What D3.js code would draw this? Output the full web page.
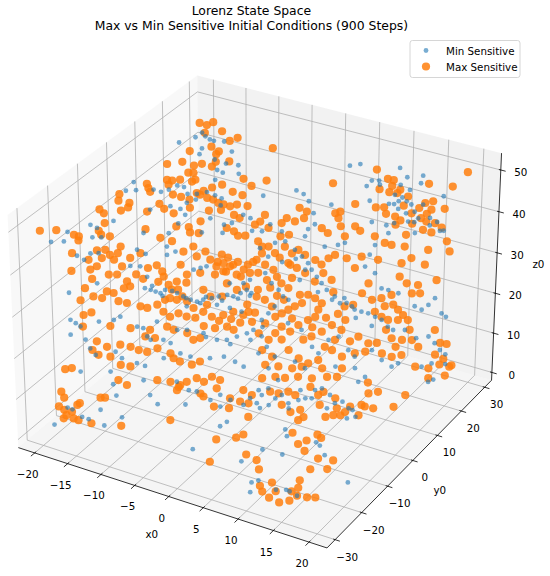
<!DOCTYPE html>
<html>
<head>
<meta charset="utf-8">
<script src="https://cdn.jsdelivr.net/npm/d3@7"></script>
<style>
  body { margin: 0; background: #fff; }
  svg { display: block; font-family: "DejaVu Sans", sans-serif; }
</style>
</head>
<body>
<svg id="chart" width="550" height="576"></svg>
<script>
// tick labels
const xTicks = [-20, -15, -10, -5, 0, 5, 10, 15, 20]
const yTicks = [-30, -20, -10, 0, 10, 20, 30]
const zTicks = [0, 10, 20, 30, 40, 50]
const seriesNames = ["Min Sensitive", "Max Sensitive"]

// [x0, y0, z0]
const minSensitive = [
  [-19.4,18.5,46.0],[-17.7,20.5,47.0],[-16.6,21.5,47.2],[-16.0,21.7,46.6],[-15.5,22.0,46.3],[-16.6,20.2,44.9],
  [-16.7,19.5,43.8],[-14.8,20.5,42.8],[-13.1,22.8,44.3],[-14.3,22.9,46.2],[-8.8,6.7,49.9],[-8.1,7.0,49.4],
  [-6.6,9.0,50.8],[-6.3,8.4,49.2],[-17.6,-2.1,47.7],[-18.2,-3.5,46.1],[-17.1,-2.5,46.2],[-15.2,-0.8,46.3],
  [-14.3,-0.3,45.9],[-13.5,0.6,46.3],[-12.7,1.7,47.1],[-11.9,2.2,46.8],[-11.3,2.0,45.5],[-10.3,2.9,45.5],
  [-9.2,3.9,45.9],[-8.2,4.4,45.3],[-7.4,4.8,44.7],[-10.2,2.3,44.5],[-11.1,1.2,43.9],[-7.3,4.2,43.4],
  [-14.9,-2.8,42.7],[-12.8,-0.6,43.3],[-11.6,0.1,42.8],[-8.0,2.1,41.1],[-6.3,2.9,39.9],[-5.5,3.8,40.2],
  [-4.5,5.5,41.7],[-3.6,5.9,41.1],[-18.6,-7.1,40.6],[-21.0,-9.6,39.9],[-20.2,-9.2,39.3],[-20.4,-18.6,43.3],
  [-20.4,-10.4,37.6],[-19.4,-9.6,37.6],[-14.9,-5.3,38.4],[-12.1,-3.0,38.4],[-11.4,-1.2,40.1],[-8.5,0.2,38.5],
  [-6.2,2.1,38.4],[-3.0,5.0,38.8],
  [5.7,19.4,50.7],[6.8,20.5,51.0],[11.3,23.9,50.3],[12.4,23.8,48.6],[14.1,25.4,48.9],[14.1,24.6,47.5],
  [8.6,20.2,48.0],[9.4,20.9,48.0],[8.2,19.3,47.0],[9.6,20.7,47.2],[11.9,22.6,47.2],[17.0,25.7,45.1],
  [0.6,12.4,46.2],[1.5,12.8,45.5],[2.3,12.7,44.2],[-2.9,8.9,45.2],[4.9,14.5,43.6],[9.0,18.4,44.3],
  [11.2,20.0,43.7],[11.8,20.4,43.7],[12.2,21.1,44.2],[12.5,21.7,44.9],[13.1,21.8,44.2],[13.7,22.0,43.6],
  [12.4,20.4,42.8],[13.4,20.8,42.0],[14.3,21.7,42.3],[15.0,23.1,43.6],[3.2,12.2,42.0],[3.7,11.4,40.0],
  [9.9,16.9,40.4],[11.6,18.0,39.8],[12.4,18.9,40.2],[13.9,20.3,40.5],[14.6,20.8,40.4],[14.9,21.5,41.1],
  [16.4,22.0,39.8],[17.1,23.0,40.4],[17.7,22.5,38.8],[18.1,22.9,38.8],[3.1,10.4,39.1],[3.0,9.5,37.8],
  [-1.2,7.2,40.0],[-1.9,5.9,38.7],[0.3,7.7,38.7],[12.1,17.5,38.4],[15.0,20.0,38.4],
  [-20.9,-23.0,43.1],[-20.5,-19.7,41.6],[-19.6,-17.5,37.4],[-20.6,-13.0,33.5],[-20.1,-11.9,34.7],[-19.2,-11.1,34.7],
  [-15.1,-7.2,35.3],[-14.0,-6.8,34.6],[-15.3,-9.2,32.4],[-14.2,-8.3,32.3],[-13.1,-8.5,30.4],[-11.6,-4.9,34.4],
  [-10.8,-3.8,35.0],[-11.9,-4.2,35.9],[-8.2,-3.6,31.7],[-7.5,-2.8,32.0],[-6.9,-2.1,32.3],[-21.2,-17.1,27.5],
  [-18.4,-13.7,29.2],[-13.0,-9.6,28.3],[-12.3,-9.2,28.0],[-11.7,-8.9,27.7],[-11.1,-8.6,27.4],[-10.7,-7.9,28.0],
  [-9.3,-7.0,27.4],[-8.5,-6.7,26.8],[-7.6,-6.3,26.2],[-6.8,-5.9,25.9],[-6.2,-5.1,26.2],[-5.3,-4.2,26.5],
  [-4.6,-3.4,26.8],[-3.7,-2.5,27.1],[-3.0,-2.0,26.8],[-2.3,-1.1,27.4],[-1.7,-0.3,28.0],[-1.1,-0.1,27.4],
  [-3.8,-1.3,29.2],[-2.3,0.0,29.2],[-1.7,0.9,29.8],[-7.8,-7.2,25.0],[-6.4,-5.7,25.6],[-4.5,-4.3,25.3],
  [-3.0,-3.3,24.7],[-1.6,-2.5,24.0],[-20.2,-19.1,22.5],[-19.5,-18.9,21.9],[-18.9,-18.7,21.3],[-19.7,-20.3,19.8],
  [-17.0,-16.6,22.2],[-17.9,-19.3,18.9],[-15.4,-15.1,22.5],[-14.8,-14.2,23.1],[-12.6,-13.5,21.3],[-11.9,-13.0,21.0],
  [-11.2,-13.3,19.5],[-10.7,-13.3,18.9],[-9.3,-12.1,18.9],[-8.4,-11.7,18.3],[-10.6,-11.2,22.2],[-8.1,-10.0,20.7],
  [-7.0,-9.1,20.7],[-5.1,-7.8,20.1],[-3.4,-7.1,18.9],[-2.3,-6.2,18.9],[-1.3,-5.0,19.5],[-0.3,-3.8,20.1],
  [0.3,-2.9,20.7],[-17.1,-19.6,17.3],[-16.3,-19.6,16.1],[-14.2,-17.5,16.7],[-13.3,-17.4,15.5],[-11.5,-16.4,14.6],
  [-10.5,-15.9,14.1],[-8.7,-13.5,15.5],[-7.0,-11.6,16.4],[-5.8,-10.9,15.8],[-3.6,-9.2,15.5],[-2.1,-7.8,15.8],
  [-0.7,-7.2,14.9],[0.4,-6.8,14.0],[-17.4,-22.4,13.1],[-14.1,-19.6,13.1],
  [-1.6,4.4,35.6],[-0.1,6.2,36.6],[1.0,7.2,36.9],[2.3,7.5,35.3],[3.3,7.6,34.1],[4.2,7.6,32.9],
  [4.8,7.4,31.7],[4.1,6.8,31.7],[5.6,7.3,30.4],[6.3,7.3,29.2],[7.1,7.2,28.0],[8.2,7.4,26.8],
  [9.0,7.3,25.6],[9.7,8.0,25.6],[10.4,8.2,25.0],[10.8,8.2,24.4],[11.6,8.7,24.0],[12.4,9.2,23.7],
  [13.3,9.5,23.1],[14.1,9.9,22.5],[15.0,9.9,21.3],[15.7,10.1,20.7],[-0.2,2.8,31.1],[0.8,2.6,29.2],
  [1.8,2.7,28.0],[2.5,2.6,26.8],[3.2,2.8,26.2],[1.9,1.0,25.0],[1.4,-0.1,23.7],[0.9,-1.3,22.5],
  [5.5,10.5,35.9],[6.9,11.9,36.2],[7.6,12.7,36.6],[11.0,15.3,36.2],[10.7,14.1,34.4],[10.6,12.6,32.3],
  [11.9,13.0,31.1],[13.1,12.4,28.3],[13.9,12.9,28.0],[15.1,13.6,27.4],[17.3,14.1,25.0],[18.2,14.4,24.4],
  [18.8,15.4,25.3],[19.3,16.6,26.5],[20.5,16.0,23.7],[19.6,20.6,19.8],[17.0,11.2,20.7],[18.5,11.6,19.2],
  [19.8,12.9,19.5],[20.7,12.9,18.3],[20.0,17.3,13.7],[20.0,19.7,11.2],[3.9,0.9,21.9],[5.6,1.6,20.7],
  [7.3,1.2,17.6],[8.2,1.3,16.4],[8.9,3.3,18.9],[9.9,4.5,19.5],[11.4,4.3,17.0],[12.3,4.4,15.8],
  [14.0,6.5,17.0],[15.4,6.6,15.2],[16.7,7.0,14.0],[17.3,7.9,14.6],[1.4,-2.6,19.5],[1.6,-4.3,16.4],
  [2.3,-3.0,17.6],[3.5,-3.0,15.8],[3.2,-4.6,13.7],[5.9,-1.6,14.9],[7.2,-1.2,13.7],[10.5,1.8,14.0],
  [12.7,3.5,13.7],[20.0,9.8,14.0],[21.0,11.0,14.6],[20.3,18.9,9.4],
  [-18.6,-29.1,3.4],[-17.7,-26.5,6.5],[-17.1,-26.2,6.2],[-15.8,-25.9,4.8],[-15.0,-25.5,4.4],[-13.1,-24.5,3.2],
  [-12.7,-21.0,8.7],[-11.4,-22.2,4.7],[-13.4,-20.4,10.8],[-10.2,-17.2,11.5],[-7.9,-17.8,7.1],[-4.8,-15.3,7.1],
  [-6.5,-14.2,11.2],[-4.9,-13.8,9.7],[-4.0,-13.1,9.4],[-2.2,-12.6,7.9],[-1.3,-11.2,8.8],[0.0,-10.7,7.9],
  [1.6,-9.9,7.0],[2.1,-8.7,8.2],[-0.9,-12.2,6.7],[0.3,-12.8,3.9],[-0.3,-13.8,3.1],[0.0,-24.4,4.2],
  [6.5,-23.0,3.8],[10.9,-30.9,3.7],[9.9,-27.9,3.6],
  [2.8,-7.3,9.7],[3.3,-7.4,8.8],[3.8,-6.2,10.0],[3.0,-8.5,7.3],[3.5,-8.6,6.4],[4.4,-7.6,7.0],
  [4.9,-6.4,8.2],[5.5,-5.5,8.8],[6.5,-5.6,7.3],[6.7,-6.0,6.4],[7.5,-4.4,7.9],[8.2,-3.6,8.2],
  [8.9,-3.0,8.2],[9.0,-2.0,9.7],[9.7,-1.2,10.0],[10.9,-2.4,6.4],[11.6,-1.2,7.3],[12.4,-0.4,7.6],
  [13.3,-0.4,6.4],[13.8,-0.2,6.1],[14.3,-0.4,4.8],[13.4,-1.3,4.5],[13.5,2.7,11.2],[14.1,3.7,12.1],
  [21.2,9.2,11.2],[20.2,14.3,8.2],[8.6,-12.2,6.0],[9.0,-12.6,4.8],[13.2,-12.6,5.5],[13.7,-12.5,4.9],
  [15.3,-14.9,4.9],[7.6,-18.1,4.2],[10.7,-18.7,5.0],[20.2,-19.2,3.6],[10.6,-27.2,4.0],[13.1,-27.2,3.1],
  [14.2,-26.3,3.1],[14.6,-26.1,2.8],[16.0,-27.0,3.1],
  [-12.3,-8.7,28.7],[-10.8,-8.6,26.9],[-9.9,-7.3,27.8],[-8.1,-6.6,26.5],[-6.0,-4.6,26.7],[-4.1,-3.4,26.0],
  [-2.4,-1.8,26.4],[-1.2,-0.4,26.9],[-0.4,4.4,34.1],[1.3,5.3,33.1],[2.7,6.8,33.7],[3.8,5.5,29.8],
  [6.2,6.2,27.6],[8.0,6.9,26.2],[11.2,7.6,22.9],[13.2,8.5,21.4],[9.3,8.2,26.5],[-4.7,-7.9,19.4],
  [-1.8,-6.2,18.1],[0.3,-4.0,18.9],[1.2,-1.8,21.2],[-17.1,21.5,47.9],[-13.4,21.3,42.0],[-8.7,5.7,48.1],
  [-10.9,0.1,41.7],[11.6,21.2,45.4],[13.1,23.0,46.3],[16.2,22.6,41.2],[4.6,-4.6,11.5],[7.4,-3.4,9.7],
  [10.8,-1.0,8.8],[-14.0,-23.6,6.1],[-9.0,-17.8,8.8]
]

const maxSensitive = [
  [-17.7,22.1,49.7],[-16.2,23.5,49.8],[-16.8,21.8,47.8],[-14.9,23.6,48.1],[-13.7,23.5,46.3],[-12.9,24.5,46.9],
  [-15.6,21.3,45.2],[-17.9,18.8,44.4],[-14.6,21.6,44.3],[-13.1,21.8,42.4],[-14.5,2.5,51.0],[-12.9,4.1,51.4],
  [-11.5,4.9,50.7],[-9.5,6.5,50.5],[-9.2,7.2,51.4],[-11.9,3.8,49.4],[-11.3,4.2,49.4],[-5.6,8.4,48.3],
  [-14.0,1.2,48.1],[-13.4,1.6,48.0],[-12.6,2.5,48.1],[-13.7,1.0,47.2],[-11.2,3.4,47.8],[-10.9,3.9,48.1],
  [-16.1,-1.0,47.4],[-15.8,-1.2,46.6],[-15.5,-1.3,45.9],[-8.8,4.8,46.7],[-9.6,3.7,46.1],[-10.3,2.9,45.7],
  [-9.9,3.1,45.4],[-9.0,3.5,44.8],[-8.3,3.9,44.5],[-7.6,4.1,43.9],[-7.0,4.5,43.6],[-5.2,7.0,45.3],
  [-4.5,8.6,47.0],[-18.8,-4.4,45.5],[-18.7,-5.0,44.3],[-17.4,-4.2,43.9],[-17.4,-4.7,43.1],[-18.1,-5.6,42.5],
  [-14.1,-1.4,43.7],[-13.4,-1.4,42.8],[-15.2,-3.2,42.3],[-12.9,0.6,45.4],[-11.9,1.1,45.0],[-10.9,1.7,44.5],
  [-10.6,1.1,43.0],[-12.2,-0.9,42.0],[-8.4,2.6,42.5],[-7.1,3.8,42.6],[-6.2,4.9,43.3],[-5.5,5.7,43.6],
  [-5.5,4.6,41.7],[-4.8,4.9,41.1],[-4.3,6.6,43.3],[-20.5,-7.5,42.7],[-19.9,-7.4,42.0],[-19.5,-8.1,40.2],
  [-19.9,-9.3,38.8],[-19.5,-9.4,38.1],[-14.8,-4.8,39.1],[-20.5,-27.3,48.2],[-20.7,-21.6,45.2],[-12.9,-4.1,37.5],
  [-11.5,-1.7,39.6],[-10.1,-0.6,39.5],[-9.0,1.0,40.5],[-9.8,-0.9,38.5],[-8.8,-0.2,38.4],[-5.9,2.9,39.3],
  [-5.0,3.3,38.7],[-4.4,3.3,37.9],[-3.6,4.0,37.9],[-20.6,-16.1,41.2],[-20.0,-15.8,40.9],[-18.5,-8.7,37.8],
  [-8.6,27.1,44.9],[-3.0,10.4,48.0],[4.4,16.4,47.5],[7.5,16.8,43.7],[8.8,21.6,50.0],[10.3,21.9,48.3],
  [11.0,22.3,48.1],[9.7,20.3,46.4],[10.9,20.9,45.9],[11.8,21.6,45.7],[12.0,22.2,46.3],[13.1,22.3,45.1],
  [15.0,25.3,47.4],[17.7,27.3,46.9],[18.9,29.9,49.5],[9.9,18.4,43.1],[10.8,19.2,43.1],[12.3,19.5,41.4],
  [13.0,19.7,40.7],[12.6,18.9,39.9],[14.0,21.3,42.0],[14.7,22.4,43.0],[15.2,23.4,43.9],[16.0,24.3,44.2],
  [16.1,23.4,42.7],[15.2,21.8,41.1],[15.9,22.0,40.5],[16.9,22.7,40.2],[17.5,24.8,42.8],[15.8,21.0,39.0],
  [16.8,21.6,38.5],[17.8,22.9,39.4],[14.1,19.0,38.1],[1.5,11.3,43.0],[2.4,11.7,42.3],[2.3,10.9,41.1],
  [1.4,9.8,40.5],[0.4,9.3,41.1],[0.0,8.4,40.2],[5.6,14.2,42.0],[6.1,14.8,42.3],[6.1,14.1,41.1],
  [6.6,13.7,39.6],[4.6,11.7,39.3],[5.4,11.9,38.4],[8.2,15.0,39.6],[8.9,15.1,38.8],[7.4,13.2,37.8],
  [10.7,16.0,37.8],[-2.1,7.5,41.7],[-2.4,6.5,40.5],[-2.9,5.8,39.9],[-1.3,6.8,39.3],[1.2,8.1,38.1],
  [0.3,7.2,37.8],
  [-20.2,-17.8,37.9],[-19.7,-19.3,34.7],[-19.9,-16.2,40.2],[-19.5,-11.0,35.2],[-18.6,-10.2,35.3],[-17.9,-10.2,34.4],
  [-18.7,-11.2,33.8],[-17.3,-10.2,33.5],[-17.0,-8.5,35.9],[-17.1,-9.3,34.7],[-20.1,-12.6,33.5],[-19.0,-12.3,32.3],
  [-19.6,-13.2,31.7],[-17.4,-11.9,30.8],[-16.5,-11.1,30.8],[-19.1,-13.8,30.0],[-19.6,-15.2,28.3],[-16.2,-10.0,32.3],
  [-14.6,-7.2,34.7],[-15.6,-8.5,33.8],[-14.4,-9.3,30.8],[-15.2,-10.7,29.5],[-14.7,-10.8,28.6],[-15.3,-11.6,28.3],
  [-17.1,-13.4,27.7],[-16.3,-12.9,27.4],[-19.7,-16.6,26.1],[-18.4,-15.1,26.8],[-17.4,-14.4,26.5],[-15.5,-13.1,25.9],
  [-14.5,-12.5,25.6],[-18.1,-16.6,23.9],[-18.9,-17.5,23.4],[-18.6,-18.5,21.3],[-15.6,-15.9,21.4],[-13.3,-14.2,21.0],
  [-12.9,-11.5,25.0],[-12.1,-11.0,24.7],[-11.1,-9.8,25.3],[-10.4,-8.7,26.2],[-12.4,-6.7,32.5],[-11.6,-6.7,31.4],
  [-11.3,-6.9,30.4],[-10.5,-7.1,28.9],[-9.7,-6.1,29.5],[-10.0,-7.2,28.0],[-9.8,-4.4,32.6],[-9.9,-3.1,35.0],
  [-11.5,-3.3,36.9],[-9.0,-1.7,35.9],[-8.3,-2.2,34.1],[-7.5,-1.0,35.0],[-6.7,-1.2,33.5],[-5.8,-1.2,32.3],
  [-5.6,0.3,34.4],[-5.1,-0.3,32.9],[-4.3,0.1,32.3],[-4.9,-0.9,31.4],[-4.0,0.5,32.6],[-2.7,1.1,31.7],
  [-1.9,1.4,31.1],[-3.3,0.0,30.8],[-8.8,-4.6,30.8],[-7.4,-3.2,31.1],[-9.9,-8.1,26.5],[-9.1,-7.6,26.2],
  [-8.6,-6.8,26.8],[-7.9,-6.8,25.9],[-10.2,-9.8,24.0],[-9.3,-9.6,23.1],[-8.5,-8.5,23.7],[-7.5,-8.0,23.1],
  [-7.0,-6.7,24.7],[-5.8,-6.1,24.0],[-4.7,-5.7,23.1],[-3.5,-4.5,23.4],[-2.5,-3.3,24.0],[-1.3,-2.6,23.4],
  [-0.1,-2.4,22.2],[-6.5,-4.3,28.0],[-5.5,-4.2,26.8],[-4.2,-3.1,26.8],[-4.1,-1.6,29.2],[-2.8,-1.2,28.0],
  [-1.9,-0.1,28.6],[-11.1,-12.5,20.7],[-11.4,-13.5,19.5],[-10.3,-12.7,19.2],[-9.3,-10.7,21.3],[-8.5,-10.3,20.7],
  [-6.9,-9.3,20.1],[-6.0,-9.3,18.9],[-5.3,-8.5,19.2],[-5.3,-7.2,21.4],[-4.0,-6.3,21.0],[-16.6,-18.4,18.6],
  [-16.8,-19.5,17.0],[-15.3,-17.9,17.6],[-16.0,-19.3,16.1],[-14.6,-18.4,15.8],[-13.9,-16.5,18.0],[-12.7,-15.7,17.6],
  [-11.7,-15.2,17.0],[-10.7,-14.6,16.7],[-9.7,-13.3,17.3],[-8.1,-12.5,16.4],[-7.6,-12.6,15.5],[-6.8,-12.3,14.9],
  [-5.4,-11.4,14.3],[-4.6,-10.4,14.9],[-19.2,-23.6,13.5],[-18.5,-22.9,13.7],[-13.2,-18.1,14.3],[-12.1,-17.3,14.0],
  [-2.7,-5.1,21.3],[-1.9,-4.7,20.7],[-0.8,-1.9,24.0],
  [-2.0,4.7,36.9],[-0.7,5.3,35.9],[0.2,5.4,34.7],[-1.2,4.1,34.7],[-1.6,3.1,33.5],[-0.5,3.5,32.6],
  [0.6,3.8,31.7],[-1.0,2.2,31.1],[0.2,2.4,29.8],[1.2,3.6,30.4],[1.9,3.5,29.2],[2.8,3.8,28.3],
  [-0.4,0.1,26.8],[0.6,0.6,26.2],[1.6,0.7,25.0],[1.1,6.8,35.9],[2.1,6.9,34.7],[2.7,7.8,35.3],
  [3.6,8.0,34.4],[2.0,5.8,32.9],[3.1,6.2,32.0],[4.2,6.5,31.1],[4.9,8.5,33.5],[5.7,8.8,32.6],
  [6.3,9.9,33.8],[6.9,10.8,34.4],[6.2,8.2,31.1],[7.3,8.5,29.8],[5.5,6.8,29.5],[5.2,5.1,27.1],
  [6.1,5.4,26.5],[7.0,5.6,25.6],[4.8,3.8,25.6],[4.1,2.9,25.0],[3.5,2.0,24.4],[8.3,11.6,33.8],
  [9.5,11.6,32.0],[9.9,13.1,34.1],[11.5,11.6,29.2],[11.1,10.2,27.4],[10.5,8.4,25.3],[9.6,7.5,25.0],
  [12.4,10.6,26.2],[13.4,11.6,26.5],[14.0,11.3,25.0],[13.1,9.9,24.0],[14.0,10.1,23.1],[14.8,10.5,22.5],
  [14.4,12.8,27.1],[14.9,12.2,25.3],[15.6,12.2,24.4],[16.3,12.3,23.4],[17.0,12.3,22.5],[15.9,11.4,22.5],
  [11.8,14.4,33.5],[12.0,16.4,36.6],[12.8,16.9,36.2],[14.3,18.0,35.9],[15.4,17.7,33.8],[14.5,16.3,32.9],
  [14.7,15.1,30.4],[15.7,15.2,29.2],[16.6,14.8,27.4],[17.0,16.1,28.9],[17.5,15.6,27.4],[17.1,18.4,32.6],
  [17.0,19.9,35.3],[18.9,18.2,29.8],[19.4,21.8,35.0],[18.8,22.3,36.9],[20.3,14.0,20.7],[19.8,17.9,15.0],
  [19.8,20.7,13.1],[19.6,16.5,12.8],[19.9,19.2,10.3],[20.1,21.3,7.2],[15.8,9.3,19.2],[17.0,10.1,18.9],
  [18.1,11.0,18.9],[19.0,11.1,17.6],[17.4,8.9,16.1],[16.4,7.8,15.8],[15.2,7.2,16.4],[12.1,6.3,19.5],
  [11.3,5.2,18.6],[13.4,6.7,18.3],[13.3,5.8,16.7],[12.2,4.7,16.4],[10.0,5.3,20.7],[9.6,3.9,18.9],
  [9.6,2.8,17.0],[10.9,3.2,15.8],[8.7,2.4,17.6],[8.4,0.7,15.2],[7.4,-0.5,14.6],[6.2,-1.0,15.5],
  [4.8,-1.2,17.0],[3.7,-1.0,18.9],[2.8,-1.1,20.1],[3.3,0.0,21.3],[4.4,0.4,20.4],[5.1,1.7,21.6],
  [6.0,3.0,22.5],[6.7,3.9,23.1],[6.1,1.0,18.9],[6.9,2.0,19.5],[7.9,3.3,20.4],[8.8,4.8,21.6],
  [1.4,-1.3,21.9],[1.0,-2.7,20.1],[2.3,-2.3,18.9],[1.9,-3.7,17.0],[3.2,-3.3,15.8],[2.7,-4.6,14.3],
  [4.2,-3.5,14.0],[5.8,-2.4,13.7],[6.8,-1.4,14.0],[9.1,0.4,13.7],[11.3,2.2,13.7],[19.3,9.2,14.0],
  [20.8,10.3,13.7],[20.4,16.1,11.0],[20.3,21.6,7.5],[2.9,1.1,23.7],[4.2,1.6,22.8],[2.3,0.2,23.1],
  [-18.9,-25.8,9.4],[-18.4,-26.0,8.3],[-18.7,-27.2,6.7],[-18.0,-27.0,6.1],[-17.6,-27.2,5.1],[-17.1,-26.4,5.7],
  [-16.7,-25.4,7.0],[-16.5,-25.0,7.3],[-17.8,-27.7,4.5],[-16.7,-26.8,4.5],[-16.1,-26.5,4.2],[-14.6,-25.5,3.6],
  [-14.4,-22.6,8.3],[-13.9,-22.2,8.3],[-13.0,-19.5,11.5],[-11.9,-19.1,10.6],[-11.2,-23.0,3.2],[-8.7,-15.9,11.5],
  [-7.2,-14.8,11.2],[-6.2,-14.9,9.7],[-6.1,-14.5,10.3],[-6.0,-17.9,4.2],[-5.4,-13.3,11.2],[-4.4,-12.1,11.9],
  [-3.5,-11.7,11.2],[-2.8,-10.5,12.1],[-1.8,-10.0,11.5],[-3.5,-13.0,9.1],[-3.1,-12.9,8.5],[-1.9,-11.0,10.0],
  [-0.1,-10.6,8.2],[1.1,-9.9,7.6],[2.1,-9.3,7.3],[1.1,-8.7,9.7],[2.2,-8.3,8.8],[-1.6,-12.8,6.7],
  [0.1,-11.5,6.4],[1.4,-19.4,4.2],[3.5,-17.4,4.5],[4.2,-16.5,5.1],[2.5,-10.4,4.8],[6.8,-22.0,5.0],
  [3.1,-25.9,3.7],[-6.0,-14.2,10.6],
  [2.8,-6.0,11.9],[4.2,-4.6,12.1],[5.3,-3.8,11.9],[6.7,-2.5,12.1],[8.4,-2.2,10.3],[8.3,-1.4,11.9],
  [4.1,-6.3,9.4],[5.1,-5.7,9.1],[6.1,-4.6,9.4],[7.0,-4.3,8.8],[5.8,-6.3,7.0],[7.0,-6.1,5.7],
  [8.0,-5.0,6.1],[8.6,-5.3,4.8],[8.1,-6.0,4.2],[9.5,-2.1,8.8],[10.0,-1.4,9.4],[10.0,-2.8,7.0],
  [11.5,-0.8,8.2],[12.0,-1.5,6.4],[12.6,-1.7,5.1],[13.0,-1.0,5.7],[13.4,-0.1,6.7],[14.6,0.0,5.1],
  [14.6,1.1,7.0],[11.8,-2.3,5.1],[11.0,-3.2,4.8],[15.0,1.3,6.7],[15.0,2.7,9.1],[16.0,3.7,9.4],
  [16.0,1.9,6.4],[18.2,3.9,6.7],[19.1,6.0,8.8],[14.6,3.5,11.1],[11.0,1.1,12.1],[9.9,0.2,12.1],
  [21.1,9.5,11.9],[20.6,18.0,7.2],[9.5,-11.8,5.4],[11.3,-14.4,5.2],[12.1,-13.3,5.8],[12.2,-14.3,3.9],
  [12.3,-9.7,5.1],[12.8,-9.6,4.5],[14.7,-15.8,4.3],[16.4,-14.6,4.0],[15.0,-19.5,4.2],[16.8,-17.9,4.2],
  [8.1,-21.5,4.0],[9.5,-24.2,4.2],[10.9,-27.4,3.0],[11.7,-28.6,2.8],[12.1,-26.1,3.6],[13.1,-27.3,2.8],
  [13.1,-29.7,2.8],[14.6,-29.9,2.6],[15.5,-28.5,2.6],[16.0,-27.0,3.1],[15.0,-23.4,4.0],[15.4,-25.0,3.4],
  [17.1,-26.2,2.8],[18.0,-25.5,2.8],[14.8,-25.9,2.8],
  [-5.8,-0.7,33.1],[-4.8,0.6,33.9],[-3.6,1.2,33.1],[-2.4,1.9,32.6],[-4.6,-0.7,31.3],[-2.8,0.3,30.4],
  [-1.9,2.6,33.1],[-5.7,-2.0,30.8],[-1.4,4.7,35.9],[0.9,5.4,33.9],[0.8,2.1,28.4],[2.7,2.4,26.2],
  [2.9,4.9,30.2],[-0.5,0.8,28.0],[1.8,2.1,26.9],[2.3,5.8,32.6],[-6.5,-7.3,22.9],[-5.6,-5.2,25.3],
  [-3.8,-5.3,22.3],[-2.5,-4.1,22.7],[-1.2,-1.4,25.3],[-0.1,-1.3,23.8],[-1.4,-3.5,22.0],[4.3,4.3,27.1],
  [6.8,4.8,24.4],[7.9,4.9,22.9],[9.1,6.3,23.6],[7.9,7.6,27.6],[10.1,6.5,22.5],[6.7,2.8,21.2],
  [-13.3,-7.7,32.0],[-11.7,-7.9,29.5],[-9.3,-6.6,28.0],[-8.6,-5.3,29.3],[-13.5,-9.0,30.0],[-16.8,22.6,49.3],
  [-14.8,21.1,43.8],[-7.8,6.0,47.2],[-16.1,18.9,42.0],[-6.4,6.4,45.9],[11.0,21.7,47.0],[14.4,20.5,40.1],
  [12.9,21.2,43.4],[15.7,22.7,41.9],[11.2,18.9,41.9],[14.9,9.5,20.7],[16.5,9.0,17.6],[17.5,11.7,20.7],
  [14.3,7.6,18.3]
]

const svg = d3.select("#chart")

// box limits, as matplotlib pads them
const xLim = [-22.5, 22.5], yLim = [-33, 33], zLim = [-2, 54]
const boxAspect = [4, 4, 3].map(v => v * 1.8294640721620434 / Math.hypot(4, 4, 3))
const xs = d3.scaleLinear().domain(xLim).range([0, boxAspect[0]])
const ys = d3.scaleLinear().domain(yLim).range([0, boxAspect[1]])
const zs = d3.scaleLinear().domain(zLim).range([0, boxAspect[2]])

// camera: elev 30, azim -60, dist 10
const elev = 30 * Math.PI / 180, azim = -60 * Math.PI / 180, dist = 10
const center = boxAspect.map(v => v / 2)
const w = [Math.cos(elev) * Math.cos(azim), Math.cos(elev) * Math.sin(azim), Math.sin(elev)]
const eye = center.map((c, i) => c + dist * w[i])
const un = Math.hypot(w[0], w[1])
const u = [-w[1] / un, w[0] / un, 0]
const v = [w[1] * u[2] - w[2] * u[1], w[2] * u[0] - w[0] * u[2], w[0] * u[1] - w[1] * u[0]]
const dot = (a, b) => a[0] * b[0] + a[1] * b[1] + a[2] * b[2]

// 2D view limits of the axes square
const axLeft = -34.9, axTop = 22.3, axSize = 572.6
const viewX = d3.scaleLinear().domain([-0.095, 0.09]).range([axLeft, axLeft + axSize])
const viewY = d3.scaleLinear().domain([-0.095, 0.09]).range([axTop + axSize, axTop])

function project(x, y, z) {
  const p = [xs(x), ys(y), zs(z)]
  const d = p.map((c, i) => c - eye[i])
  const depth = -dot(w, d)
  return [viewX(dot(u, d) / depth), viewY(dot(v, d) / depth), depth]
}

const [x0, x1] = xLim, [y0, y1] = yLim, [z0, z1] = zLim
const poly = pts => pts.map(p => project(...p).slice(0, 2).join(",")).join(" ")

// panes
const panes = svg.append("g").attr("class", "panes")
panes.append("polygon").attr("points", poly([[x0, y0, z0], [x0, y1, z0], [x0, y1, z1], [x0, y0, z1]]))
  .attr("fill", "rgb(242,242,242)").attr("fill-opacity", 0.5)
panes.append("polygon").attr("points", poly([[x0, y1, z0], [x1, y1, z0], [x1, y1, z1], [x0, y1, z1]]))
  .attr("fill", "rgb(230,230,230)").attr("fill-opacity", 0.5)
panes.append("polygon").attr("points", poly([[x0, y0, z0], [x1, y0, z0], [x1, y1, z0], [x0, y1, z0]]))
  .attr("fill", "rgb(236,236,236)").attr("fill-opacity", 0.5)

// grid
const gridLines = []
xTicks.forEach(t => {
  gridLines.push([[t, y0, z0], [t, y1, z0]])
  gridLines.push([[t, y1, z0], [t, y1, z1]])
})
yTicks.forEach(t => {
  gridLines.push([[x0, t, z0], [x1, t, z0]])
  gridLines.push([[x0, t, z0], [x0, t, z1]])
})
zTicks.forEach(t => {
  gridLines.push([[x0, y0, t], [x0, y1, t]])
  gridLines.push([[x0, y1, t], [x1, y1, t]])
})
svg.append("g").attr("class", "grid")
  .selectAll("line").data(gridLines).join("line")
  .attr("x1", d => project(...d[0])[0]).attr("y1", d => project(...d[0])[1])
  .attr("x2", d => project(...d[1])[0]).attr("y2", d => project(...d[1])[1])
  .attr("stroke", "#b0b0b0").attr("stroke-width", 0.8)

// axis lines
const axisLines = [
  [[x0, y0, z0], [x1, y0, z0]],
  [[x1, y0, z0], [x1, y1, z0]],
  [[x1, y1, z0], [x1, y1, z1]]
]
svg.append("g").attr("class", "axis-lines")
  .selectAll("line").data(axisLines).join("line")
  .attr("x1", d => project(...d[0])[0]).attr("y1", d => project(...d[0])[1])
  .attr("x2", d => project(...d[1])[0]).attr("y2", d => project(...d[1])[1])
  .attr("stroke", "#000").attr("stroke-width", 0.8)

// ticks and tick labels
function tickGroup(ticks, at, outward, labelDx, labelDy, cls) {
  const g = svg.append("g").attr("class", cls)
  ticks.forEach(t => {
    const p = project(...at(t))
    const q = project(...outward(t))
    const len = Math.hypot(q[0] - p[0], q[1] - p[1])
    const dx = (q[0] - p[0]) / len, dy = (q[1] - p[1]) / len
    g.append("line")
      .attr("x1", p[0] - 2 * dx).attr("y1", p[1] - 2 * dy)
      .attr("x2", p[0] + 5 * dx).attr("y2", p[1] + 5 * dy)
      .attr("stroke", "#000").attr("stroke-width", 0.8)
    g.append("text")
      .attr("x", p[0] + labelDx).attr("y", p[1] + labelDy)
      .attr("text-anchor", "middle").attr("dominant-baseline", "central")
      .attr("font-size", 10.3).attr("fill", "#000")
      .text(d3.format("")(t).replace("-", "\u2212"))
  })
}
tickGroup(xTicks, t => [t, y0, z0], t => [t, y0 - 1, z0], -7, 21, "x-ticks")
tickGroup(yTicks, t => [x1, t, z0], t => [x1 + 1, t, z0], 12, 17, "y-ticks")
tickGroup(zTicks, t => [x1, y1, t], t => [x1 + 1, y1, t], 20, 2.2, "z-ticks")

// axis labels
const axisLabels = [
  { text: "x0", at: [0, y0, z0], dx: -17, dy: 37.5 },
  { text: "y0", at: [x1, 0, z0], dx: 27, dy: 29.5 },
  { text: "z0", at: [x1, y1, (z0 + z1) / 2], dx: 42, dy: -5 }
]
svg.append("g").attr("class", "axis-labels")
  .selectAll("text").data(axisLabels).join("text")
  .attr("x", d => project(...d.at)[0] + d.dx)
  .attr("y", d => project(...d.at)[1] + d.dy)
  .attr("text-anchor", "middle").attr("dominant-baseline", "central")
  .attr("font-size", 10.3).text(d => d.text)

// scatter points, far ones first
function drawSeries(data, color, r, opacity, cls) {
  const pts = data.map(d => project(d[0], d[1], d[2])).sort((a, b) => b[2] - a[2])
  svg.append("g").attr("class", cls)
    .selectAll("circle").data(pts).join("circle")
    .attr("cx", d => d[0]).attr("cy", d => d[1]).attr("r", r)
    .attr("fill", color).attr("fill-opacity", opacity)
}
drawSeries(maxSensitive, "#ff7f0e", 4.1, 0.85, "max-sensitive")
drawSeries(minSensitive, "#1f77b4", 2.4, 0.6, "min-sensitive")

// title
const titleX = axLeft + axSize / 2
svg.append("text").attr("x", titleX).attr("y", 15).attr("text-anchor", "middle")
  .attr("font-size", 12.4).text("Lorenz State Space")
svg.append("text").attr("x", titleX).attr("y", 29.5).attr("text-anchor", "middle")
  .attr("font-size", 12.4).text("Max vs Min Sensitive Initial Conditions (900 Steps)")

// legend
const legend = svg.append("g").attr("class", "legend").attr("transform", "translate(410,40.5)")
legend.append("rect").attr("width", 110).attr("height", 37).attr("rx", 2.5)
  .attr("fill", "#fff").attr("fill-opacity", 0.8)
  .attr("stroke", "#cccccc").attr("stroke-width", 0.8)
const legendItems = [
  { name: seriesNames[0], color: "#1f77b4", r: 2.4, opacity: 0.6 },
  { name: seriesNames[1], color: "#ff7f0e", r: 4.1, opacity: 0.85 }
]
legendItems.forEach((d, i) => {
  const cy = 10 + i * 16
  legend.append("circle").attr("cx", 16).attr("cy", cy).attr("r", d.r)
    .attr("fill", d.color).attr("fill-opacity", d.opacity)
  legend.append("text").attr("x", 36).attr("y", cy).attr("dominant-baseline", "central")
    .attr("font-size", 10.3).text(d.name)
})
</script>
</body>
</html>
